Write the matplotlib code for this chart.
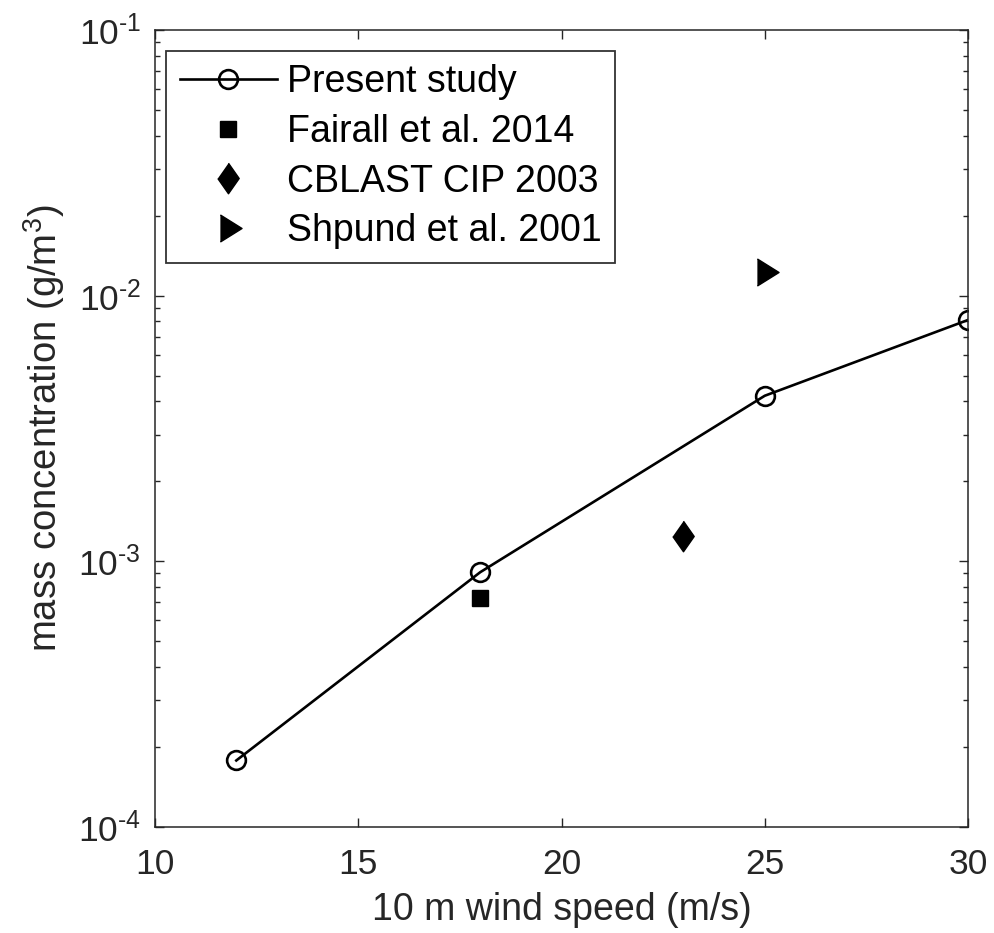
import matplotlib
matplotlib.use("Agg")
import matplotlib.pyplot as plt
from matplotlib.ticker import FuncFormatter
import numpy as np

# Data
wind_present = [12, 18, 25, 30]
conc_present = [1.78e-4, 9.1e-4, 4.2e-3, 8.1e-3]

wind_fairall = [18]
conc_fairall = [7.25e-4]

wind_cblast = [23]
conc_cblast = [1.25e-3]

wind_shpund = [25]
conc_shpund = [1.23e-2]

x_ticks = [10, 15, 20, 25, 30]

plt.rcParams["font.family"] = ["Liberation Sans", "DejaVu Sans"]
plt.rcParams["mathtext.fontset"] = "custom"
plt.rcParams["mathtext.rm"] = "Liberation Sans"
plt.rcParams["mathtext.it"] = "Liberation Sans"
plt.rcParams["mathtext.default"] = "regular"
plt.rcParams["axes.unicode_minus"] = False

INK = "#262626"

fig = plt.figure(figsize=(9.94, 9.33), dpi=100)
ax = fig.add_axes([155 / 994, 1 - 827 / 933, (968 - 155) / 994, (827 - 30) / 933])

# MATLAB-like marker shapes (diamond is narrower, right triangle taller than wide)
diamond = [(0, 0.5), (0.35, 0), (0, -0.5), (-0.35, 0)]
tri_right = [(-0.3, 0.5), (0.5, 0), (-0.3, -0.5)]

ax.plot(wind_present, conc_present, "-o", color="black", linewidth=1.9,
        markersize=13.5, markeredgewidth=1.9, markerfacecolor="none",
        label="Present study")
ax.plot(wind_fairall, conc_fairall, "s", color="black", markersize=12.2,
        linestyle="none", label="Fairall et al. 2014")
ax.plot(wind_cblast, conc_cblast, marker=diamond, color="black", markersize=22,
        linestyle="none", label="CBLAST CIP 2003")
ax.plot(wind_shpund, conc_shpund, marker=tri_right, color="black", markersize=19.5,
        linestyle="none", label="Shpund et al. 2001")

ax.set_yscale("log")
ax.set_xlim(10, 30)
ax.set_ylim(1e-4, 1e-1)
ax.set_xticks(x_ticks)


def decade_label(v, pos):
    n = int(round(np.log10(v)))
    sign = "-" if n < 0 else ""
    return r"$10^{\text{%s%d}}$" % (sign, abs(n))


ax.yaxis.set_major_formatter(FuncFormatter(decade_label))

ax.tick_params(which="both", direction="in", top=True, right=True, width=1.0,
               labelsize=25.5, colors=INK)
ax.tick_params(which="major", length=6.5)
ax.tick_params(axis="x", which="major", pad=15)
ax.tick_params(axis="y", which="major", pad=10)
ax.tick_params(which="minor", length=3.8)
for s in ax.spines.values():
    s.set_linewidth(1.1)
    s.set_color(INK)

ax.set_xlabel("10 m wind speed (m/s)", fontsize=27, color=INK, labelpad=8)
ax.set_ylabel("mass concentration (g/m$^3$)", fontsize=27.5, color=INK, labelpad=8)

leg = ax.legend(loc="upper left", bbox_to_anchor=(166 / 994, 1 - 51 / 933),
                bbox_transform=fig.transFigure, borderaxespad=0, fontsize=27,
                frameon=True, fancybox=False, edgecolor="black",
                handlelength=2.6, handletextpad=0.27, labelspacing=0.36,
                borderpad=0.36)
leg.get_frame().set_linewidth(1.3)

fig.savefig("out.png", dpi=100)
